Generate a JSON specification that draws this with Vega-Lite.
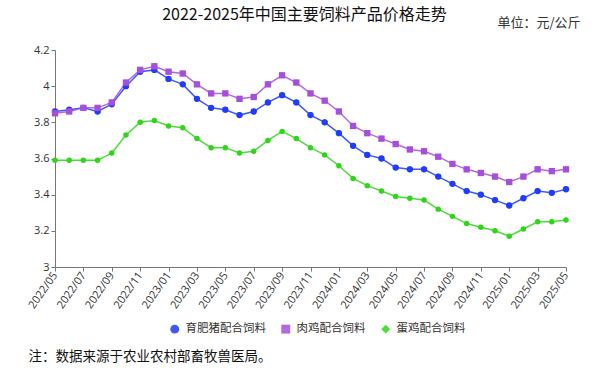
{
  "$schema": "https://vega.github.io/schema/vega-lite/v6.json",
  "width": 511,
  "height": 217,
  "autosize": "none",
  "padding": {"left": 55, "top": 50, "right": 45, "bottom": 101},
  "background": "white",
  "config": {"view": {"stroke": null}},
  "title": {
    "text": "2022-2025年中国主要饲料产品价格走势",
    "anchor": "middle",
    "frame": "group",
    "dx": -6,
    "offset": -7,
    "fontSize": 16,
    "fontWeight": "normal",
    "font": "Noto Sans CJK SC",
    "color": "#111"
  },
  "data": {
    "values": [
      {"m": "2022/05", "a": 3.86, "b": 3.85, "c": 3.59},
      {"m": "2022/06", "a": 3.87, "b": 3.86, "c": 3.59},
      {"m": "2022/07", "a": 3.88, "b": 3.88, "c": 3.59},
      {"m": "2022/08", "a": 3.86, "b": 3.88, "c": 3.59},
      {"m": "2022/09", "a": 3.90, "b": 3.91, "c": 3.63},
      {"m": "2022/10", "a": 4.00, "b": 4.02, "c": 3.73},
      {"m": "2022/11", "a": 4.08, "b": 4.09, "c": 3.80},
      {"m": "2022/12", "a": 4.09, "b": 4.11, "c": 3.81},
      {"m": "2023/01", "a": 4.04, "b": 4.08, "c": 3.78},
      {"m": "2023/02", "a": 4.01, "b": 4.07, "c": 3.77},
      {"m": "2023/03", "a": 3.93, "b": 4.01, "c": 3.71},
      {"m": "2023/04", "a": 3.88, "b": 3.96, "c": 3.66},
      {"m": "2023/05", "a": 3.87, "b": 3.96, "c": 3.66},
      {"m": "2023/06", "a": 3.84, "b": 3.93, "c": 3.63},
      {"m": "2023/07", "a": 3.86, "b": 3.94, "c": 3.64},
      {"m": "2023/08", "a": 3.91, "b": 4.01, "c": 3.70},
      {"m": "2023/09", "a": 3.95, "b": 4.06, "c": 3.75},
      {"m": "2023/10", "a": 3.91, "b": 4.02, "c": 3.71},
      {"m": "2023/11", "a": 3.84, "b": 3.96, "c": 3.66},
      {"m": "2023/12", "a": 3.80, "b": 3.92, "c": 3.62},
      {"m": "2024/01", "a": 3.74, "b": 3.86, "c": 3.56},
      {"m": "2024/02", "a": 3.67, "b": 3.78, "c": 3.49},
      {"m": "2024/03", "a": 3.62, "b": 3.74, "c": 3.45},
      {"m": "2024/04", "a": 3.60, "b": 3.71, "c": 3.42},
      {"m": "2024/05", "a": 3.55, "b": 3.68, "c": 3.39},
      {"m": "2024/06", "a": 3.54, "b": 3.65, "c": 3.38},
      {"m": "2024/07", "a": 3.54, "b": 3.64, "c": 3.37},
      {"m": "2024/08", "a": 3.50, "b": 3.61, "c": 3.32},
      {"m": "2024/09", "a": 3.46, "b": 3.57, "c": 3.28},
      {"m": "2024/10", "a": 3.42, "b": 3.54, "c": 3.24},
      {"m": "2024/11", "a": 3.40, "b": 3.52, "c": 3.22},
      {"m": "2024/12", "a": 3.37, "b": 3.50, "c": 3.20},
      {"m": "2025/01", "a": 3.34, "b": 3.47, "c": 3.17},
      {"m": "2025/02", "a": 3.38, "b": 3.50, "c": 3.21},
      {"m": "2025/03", "a": 3.42, "b": 3.54, "c": 3.25},
      {"m": "2025/04", "a": 3.41, "b": 3.53, "c": 3.25},
      {"m": "2025/05", "a": 3.43, "b": 3.54, "c": 3.26}
    ]
  },
  "transform": [
    {"fold": ["a", "b", "c"], "as": ["k", "v"]},
    {"lookup": "k", "from": {"data": {"values": [
      {"k": "a", "s": "育肥猪配合饲料"},
      {"k": "b", "s": "肉鸡配合饲料"},
      {"k": "c", "s": "蛋鸡配合饲料"}
    ]}, "key": "k", "fields": ["s"]}}
  ],
  "encoding": {
    "x": {
      "field": "m",
      "type": "ordinal",
      "scale": {"type": "point", "padding": 0},
      "axis": {
        "values": ["2022/05","2022/07","2022/09","2022/11","2023/01","2023/03","2023/05","2023/07","2023/09","2023/11","2024/01","2024/03","2024/05","2024/07","2024/09","2024/11","2025/01","2025/03","2025/05"],
        "labelAngle": -55,
        "labelAlign": "right",
        "labelBaseline": "middle",
        "labelFontSize": 11,
        "labelFont": "Open Sans",
        "labelColor": "#333",
        "labelPadding": 2,
        "domainColor": "#777",
        "tickColor": "#777",
        "tickSize": 4,
        "grid": false,
        "title": "注：数据来源于农业农村部畜牧兽医局。",
        "titleX": -27,
        "titleY": 93,
        "titleAlign": "left",
        "titleBaseline": "alphabetic",
        "titleFont": "Noto Sans CJK SC",
        "titleFontSize": 13.5,
        "titleFontWeight": "normal",
        "titleColor": "#111"
      }
    },
    "y": {
      "field": "v",
      "type": "quantitative",
      "scale": {"domain": [3, 4.2], "nice": false, "zero": false},
      "axis": {
        "values": [3, 3.2, 3.4, 3.6, 3.8, 4, 4.2],
        "format": "~g",
        "labelFontSize": 11,
        "labelFont": "Open Sans",
        "labelColor": "#333",
        "domainColor": "#777",
        "tickColor": "#777",
        "tickSize": 4,
        "grid": false,
        "title": "单位：元/公斤",
        "titleAngle": 0,
        "titleX": 442,
        "titleY": -28,
        "titleAlign": "left",
        "titleBaseline": "middle",
        "titleFont": "Noto Sans CJK SC",
        "titleFontSize": 13,
        "titleFontWeight": "normal",
        "titleColor": "#333"
      }
    },
    "color": {
      "field": "s",
      "type": "nominal",
      "sort": ["育肥猪配合饲料", "肉鸡配合饲料", "蛋鸡配合饲料"],
      "scale": {"domain": ["育肥猪配合饲料", "肉鸡配合饲料", "蛋鸡配合饲料"], "range": ["#1f3cff", "#a64fdc", "#2fd61a"]},
      "legend": {
        "orient": "none",
        "direction": "horizontal",
        "legendX": 114,
        "legendY": 273,
        "title": null,
        "labelFont": "Noto Sans CJK SC",
        "labelFontSize": 11.5,
        "labelColor": "#333",
        "symbolSize": 80,
        "symbolStrokeWidth": 0,
        "columnPadding": 14,
        "labelOffset": 5
      }
    },
    "shape": {
      "field": "s",
      "type": "nominal",
      "sort": ["育肥猪配合饲料", "肉鸡配合饲料", "蛋鸡配合饲料"],
      "scale": {"domain": ["育肥猪配合饲料", "肉鸡配合饲料", "蛋鸡配合饲料"], "range": ["circle", "square", "diamond"]}
    }
  },
  "layer": [
    {
      "mark": {"type": "line", "strokeWidth": 1.5, "opacity": 0.85},
      "encoding": {"shape": {"value": "circle"}}
    },
    {
      "mark": {"type": "point", "filled": true, "opacity": 1},
      "encoding": {
        "size": {"condition": {"test": "datum.k === 'c'", "value": 24}, "value": 40}
      }
    }
  ]
}
